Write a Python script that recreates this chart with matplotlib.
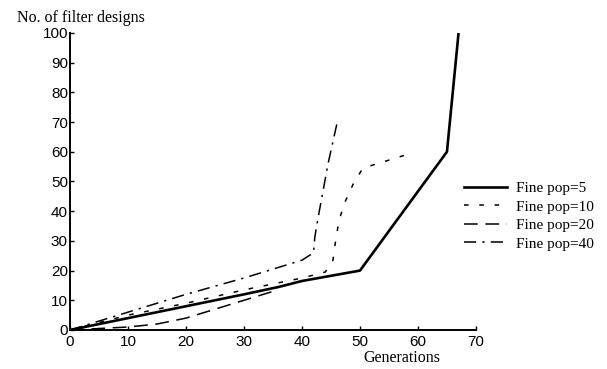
import matplotlib.pyplot as plt

# generations vs number of filter designs
gen_pop5 = [0, 10, 20, 30, 36, 40, 50, 65, 67]
des_pop5 = [0, 4, 8, 12, 14.5, 16.5, 20, 60, 100]

gen_pop10 = [0, 10, 20, 30, 40, 44, 45.3, 45.8, 46.4, 47.4, 48.8, 50.5, 58]
des_pop10 = [0, 5, 9, 13.5, 17.5, 19.5, 23, 30, 37, 43, 49, 54.5, 59]

gen_pop20 = [0, 5, 10, 15, 20, 25, 30, 35, 36]
des_pop20 = [0, 0.5, 1, 2, 4, 7, 10, 13, 14.5]

gen_pop40 = [0, 10, 20, 30, 40, 42, 42.2, 42.8, 44.5, 46.2]
des_pop40 = [0, 6, 12, 17.5, 23.5, 26, 31, 38, 56, 71]

labels = ["Fine pop=5", "Fine pop=10", "Fine pop=20", "Fine pop=40"]

serif = "Liberation Serif"
sans = "Liberation Sans"

fig = plt.figure(figsize=(6.07, 3.69), dpi=100)
ax = fig.add_axes([0.1153, 0.1057, 0.6688, 0.8049])

ax.plot(gen_pop5, des_pop5, color="black", lw=1.9, label=labels[0])
ax.plot(gen_pop10, des_pop10, color="black", lw=1.1, dashes=(3, 7), label=labels[1])
ax.plot(gen_pop20, des_pop20, color="black", lw=1.1, dashes=(9, 5), label=labels[2])
ax.plot(gen_pop40, des_pop40, color="black", lw=1.1, dashes=(8, 4, 1.5, 4), label=labels[3])

ax.set_xlim(0, 70)
ax.set_ylim(0, 100)
ax.set_xticks(range(0, 71, 10))
ax.set_yticks(range(0, 101, 10))
ax.spines["top"].set_visible(False)
ax.spines["right"].set_visible(False)
ax.spines["left"].set_linewidth(1.4)
ax.spines["bottom"].set_linewidth(1.4)
ax.tick_params(direction="in", length=3, width=1)
ax.tick_params(axis="y", pad=1.5)
ax.tick_params(axis="x", pad=3.5)
for t in ax.get_xticklabels() + ax.get_yticklabels():
    t.set_fontfamily(sans)
    t.set_fontsize(11)

fig.text(0.028, 0.952, "No. of filter designs", family=serif, fontsize=11.5,
         ha="left", va="center")
fig.text(0.662, 0.03, "Generations", family=serif, fontsize=11.5,
         ha="center", va="center")

ax.legend(loc="upper left", bbox_to_anchor=(0.755, 0.525),
          bbox_transform=fig.transFigure, frameon=False,
          prop={"family": serif, "size": 11}, handlelength=2.8,
          labelspacing=0.32, handletextpad=0.6, borderaxespad=0)

fig.savefig("out.png", dpi=100)
